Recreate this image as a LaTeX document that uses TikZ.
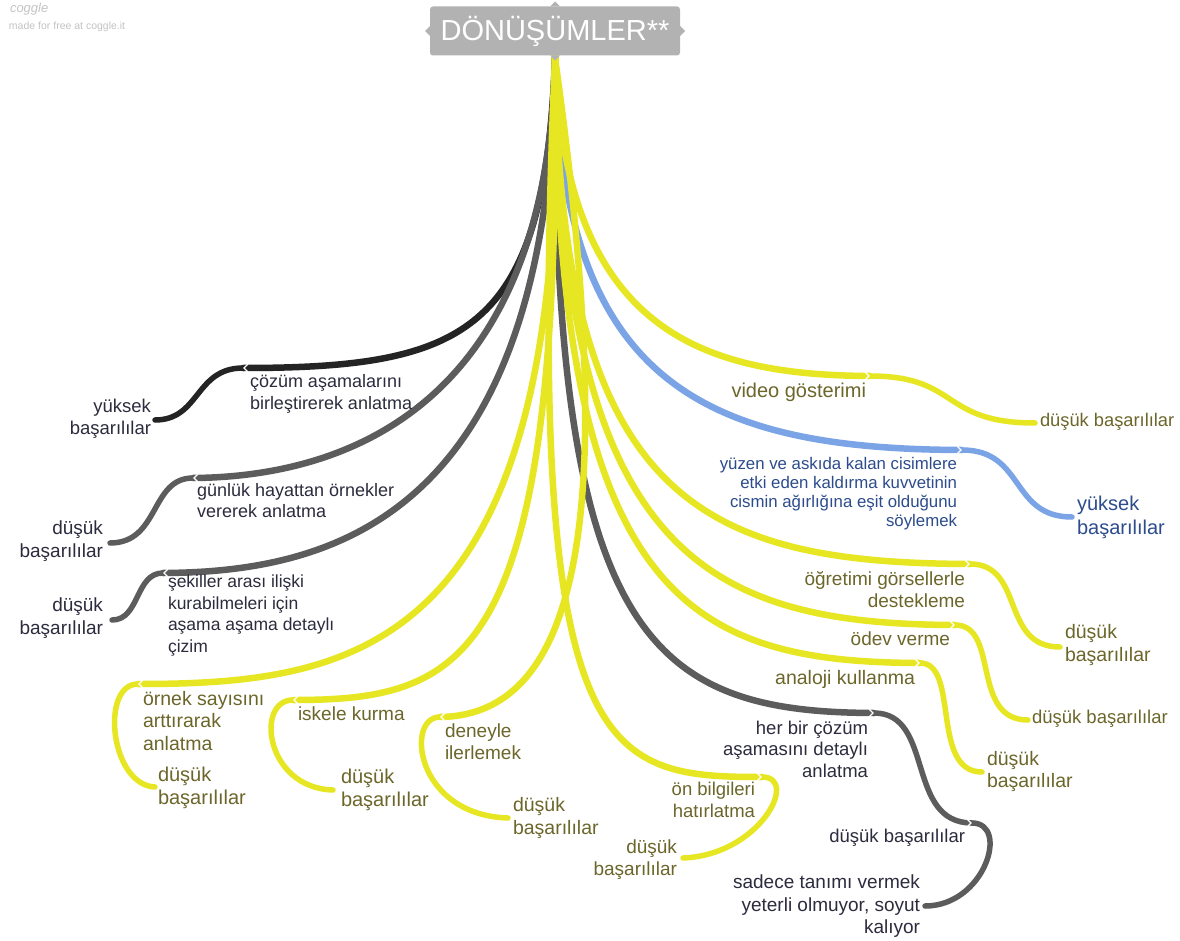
\documentclass[tikz,border=0pt]{standalone}
\usepackage{fontspec}
\setmainfont{Liberation Sans}
\usetikzlibrary{calc}

\definecolor{cYellow}{RGB}{230,230,34}
\definecolor{cBlue}{RGB}{122,164,230}
\definecolor{cBlack}{RGB}{36,36,36}
\definecolor{cGray}{RGB}{92,92,92}
\definecolor{tOlive}{RGB}{108,102,42}
\definecolor{tDark}{RGB}{44,44,62}
\definecolor{tBlue}{RGB}{44,76,140}
\definecolor{cTitle}{RGB}{178,178,178}
\definecolor{cMark}{RGB}{196,196,196}

\newcommand\setfs[2]{\fontsize{#1}{#2}\selectfont}

\tikzset{
  br/.style={line width=6.5pt, line cap=round},
  sub/.style={line width=5.5pt, line cap=round},
  lbl/.style={inner sep=0pt, outer sep=0pt},
  lft/.style={lbl, anchor=north west, align=left},
  rgt/.style={lbl, anchor=north east, align=right},
  notchL/.style={white, line width=1.2pt},
}

\begin{document}
\begin{tikzpicture}[x=1pt,y=-1pt]
\useasboundingbox (0,0) rectangle (1180,941);
\fill[white] (0,0) rectangle (1180,941);

% watermark
\node[lft, text=cMark, font=\itshape\setfs{13}{15}] (wm1) at (10,3) {coggle};
\node[lft, text=cMark, font=\setfs{10.5}{12}] (wm2) at (9,22) {made for free at coggle.it};

% branch points
\coordinate (root) at (555,58);
\coordinate (j1) at (243,368);  \coordinate (e1) at (155,420);
\coordinate (j2) at (193,478);  \coordinate (e2) at (110,543);
\coordinate (j3) at (163,573);  \coordinate (e3) at (112,620);
\coordinate (j4) at (138,684);  \coordinate (e4) at (155,787);
\coordinate (j5) at (293,700);  \coordinate (e5) at (333,790);
\coordinate (j6) at (440,717);  \coordinate (e6) at (508,818);
\coordinate (j7) at (762,777);  \coordinate (e7) at (683,858);
\coordinate (j8) at (874,713);  \coordinate (j8b) at (972,823); \coordinate (e8) at (925,906);
\coordinate (j9) at (920,663);  \coordinate (e9) at (982,772);
\coordinate (j10) at (955,625); \coordinate (e10) at (1028,720);
\coordinate (j11) at (970,564); \coordinate (e11) at (1060,647);
\coordinate (j12) at (962,450); \coordinate (e12) at (1072,517);
\coordinate (j13) at (870,376); \coordinate (e13) at (1035,423);

% dark branches
\draw[br, cBlack] (root) .. controls (545,330) and (470,368) .. (j1);
\draw[br, cGray] (root) .. controls (548,420) and (330,477) .. (j2);
\draw[br, cGray] (root) .. controls (550,520) and (330,572) .. (j3);
\draw[br, cGray] (root) .. controls (550,640) and (650,712) .. (j8);
\draw[br, cBlue] (root) .. controls (560,380) and (700,449) .. (j12);

% yellow branches
\draw[br, cYellow] (root) .. controls (565,330) and (700,375) .. (j13);
\draw[br, cYellow] (root) .. controls (560,500) and (700,563) .. (j11);
\draw[br, cYellow] (root) .. controls (560,550) and (700,624) .. (j10);
\draw[br, cYellow] (root) .. controls (555,600) and (690,662) .. (j9);
\draw[br, cYellow] (root) .. controls (525,760) and (600,777) .. (j7);
\draw[br, cYellow] (root) .. controls (610,450) and (600,715) .. (j6);
\draw[br, cYellow] (root) .. controls (562,660) and (470,700) .. (j5);
\draw[br, cYellow] (root) .. controls (570,650) and (360,684) .. (j4);

% second level
\draw[sub, cBlack] (j1) .. controls (195,368) and (200,420) .. (e1);
\draw[sub, cGray] (j2) .. controls (150,478) and (160,543) .. (e2);
\draw[sub, cGray] (j3) .. controls (135,573) and (140,620) .. (e3);
\draw[sub, cYellow] (j4) .. controls (100,684) and (110,785) .. (e4);
\draw[sub, cYellow] (j5) .. controls (255,700) and (265,788) .. (e5);
\draw[sub, cYellow] (j6) .. controls (405,717) and (415,815) .. (e6);
\draw[sub, cYellow] (j7) .. controls (800,777) and (760,855) .. (e7);
\draw[sub, cGray] (j8) .. controls (935,713) and (905,823) .. (j8b);
\draw[sub, cGray] (j8b) .. controls (1010,823) and (985,906) .. (e8);
\draw[sub, cYellow] (j9) .. controls (960,663) and (930,772) .. (e9);
\draw[sub, cYellow] (j10) .. controls (1000,625) and (970,720) .. (e10);
\draw[sub, cYellow] (j11) .. controls (1025,564) and (1000,647) .. (e11);
\draw[sub, cBlue] (j12) .. controls (1025,450) and (1010,517) .. (e12);
\draw[sub, cYellow] (j13) .. controls (960,376) and (940,423) .. (e13);

% joint notches
\foreach \j in {j1,j2,j3,j4,j5,j6}
  \draw[notchL] ($(\j)+(5,-4)$) -- ($(\j)+(1,0)$) -- ($(\j)+(5,4)$);
\foreach \j in {j7,j8,j8b,j9,j10,j11,j12,j13}
  \draw[notchL] ($(\j)+(-5,-4)$) -- ($(\j)+(-1,0)$) -- ($(\j)+(-5,4)$);

% title
\node[lbl, fill=cTitle, rounded corners=3pt, minimum width=250pt, minimum height=49pt,
      text=white, font=\setfs{29}{32}] (title) at (555,31) {DÖNÜŞÜMLER**};
\fill[cTitle] ($(title.north)+(-5,0)$) -- ($(title.north)+(0,-5)$) -- ($(title.north)+(5,0)$) -- cycle;
\fill[cTitle] ($(title.south)+(-5,0)$) -- ($(title.south)+(0,5)$) -- ($(title.south)+(5,0)$) -- cycle;
\fill[cTitle] ($(title.west)+(0,-5)$) -- ($(title.west)+(-5,0)$) -- ($(title.west)+(0,5)$) -- cycle;
\fill[cTitle] ($(title.east)+(0,-5)$) -- ($(title.east)+(5,0)$) -- ($(title.east)+(0,5)$) -- cycle;

% labels, left side
\node[lft, text=tDark, font=\setfs{18}{22}] (n1) at (250,374) {çözüm aşamalarını\\birleştirerek anlatma};
\node[rgt, text=tDark, font=\setfs{18.5}{22}] (n1a) at (151,399) {yüksek\\başarılılar};
\node[lft, text=tDark, font=\setfs{18}{21}] (n2) at (197,483) {günlük hayattan örnekler\\vererek anlatma};
\node[rgt, text=tDark, font=\setfs{19}{23}] (n2a) at (103,521) {düşük\\başarılılar};
\node[lft, text=tDark, font=\setfs{17.5}{21.5}] (n3) at (168,575) {şekiller arası ilişki\\kurabilmeleri için\\aşama aşama detaylı\\çizim};
\node[rgt, text=tDark, font=\setfs{19}{23}] (n3a) at (103,598) {düşük\\başarılılar};
\node[lft, text=tOlive, font=\setfs{19.5}{22.5}] (n4) at (143,691) {örnek sayısını\\arttırarak\\anlatma};
\node[lft, text=tOlive, font=\setfs{20}{23}] (n4a) at (158,767) {düşük\\başarılılar};
\node[lft, text=tOlive, font=\setfs{19}{22}] (n5) at (298,707) {iskele kurma};
\node[lft, text=tOlive, font=\setfs{20}{23}] (n5a) at (341,769) {düşük\\başarılılar};
\node[lft, text=tOlive, font=\setfs{19}{22}] (n6) at (445,724) {deneyle\\ilerlemek};
\node[lft, text=tOlive, font=\setfs{19.5}{23}] (n6a) at (513,797) {düşük\\başarılılar};

% labels, lower middle
\node[rgt, text=tOlive, font=\setfs{18.5}{22}] (n7) at (755,782) {ön bilgileri\\hatırlatma};
\node[rgt, text=tOlive, font=\setfs{19}{22}] (n7a) at (677,840) {düşük\\başarılılar};
\node[rgt, text=tDark, font=\setfs{18.5}{21.5}] (n8) at (868,721) {her bir çözüm\\aşamasını detaylı\\anlatma};
\node[rgt, text=tDark, font=\setfs{18.5}{22}] (n8a) at (965,829) {düşük başarılılar};
\node[rgt, text=tDark, font=\setfs{19}{22.5}] (n8b) at (920,875) {sadece tanımı vermek\\yeterli olmuyor, soyut\\kalıyor};

% labels, right side
\node[rgt, text=tOlive, font=\setfs{19.5}{22}] (n9) at (915,670) {analoji kullanma};
\node[lft, text=tOlive, font=\setfs{19.5}{22}] (n9a) at (987,751) {düşük\\başarılılar};
\node[rgt, text=tOlive, font=\setfs{19}{22}] (n10) at (950,632) {ödev verme};
\node[lft, text=tOlive, font=\setfs{18.5}{22}] (n10a) at (1032,710) {düşük başarılılar};
\node[rgt, text=tOlive, font=\setfs{19}{22}] (n11) at (965,571) {öğretimi görsellerle\\destekleme};
\node[lft, text=tOlive, font=\setfs{19.5}{23}] (n11a) at (1065,624) {düşük\\başarılılar};
\node[rgt, text=tBlue, font=\setfs{16.8}{19}] (n12) at (957,457) {yüzen ve askıda kalan cisimlere\\etki eden kaldırma kuvvetinin\\cismin ağırlığına eşit olduğunu\\söylemek};
\node[lft, text=tBlue, font=\setfs{20}{24}] (n12a) at (1077,496) {yüksek\\başarılılar};
\node[rgt, text=tOlive, font=\setfs{20}{22}] (n13) at (866,383) {video gösterimi};
\node[lft, text=tOlive, font=\setfs{18.3}{22}] (n13a) at (1040,413) {düşük başarılılar};
\end{tikzpicture}
\end{document}
